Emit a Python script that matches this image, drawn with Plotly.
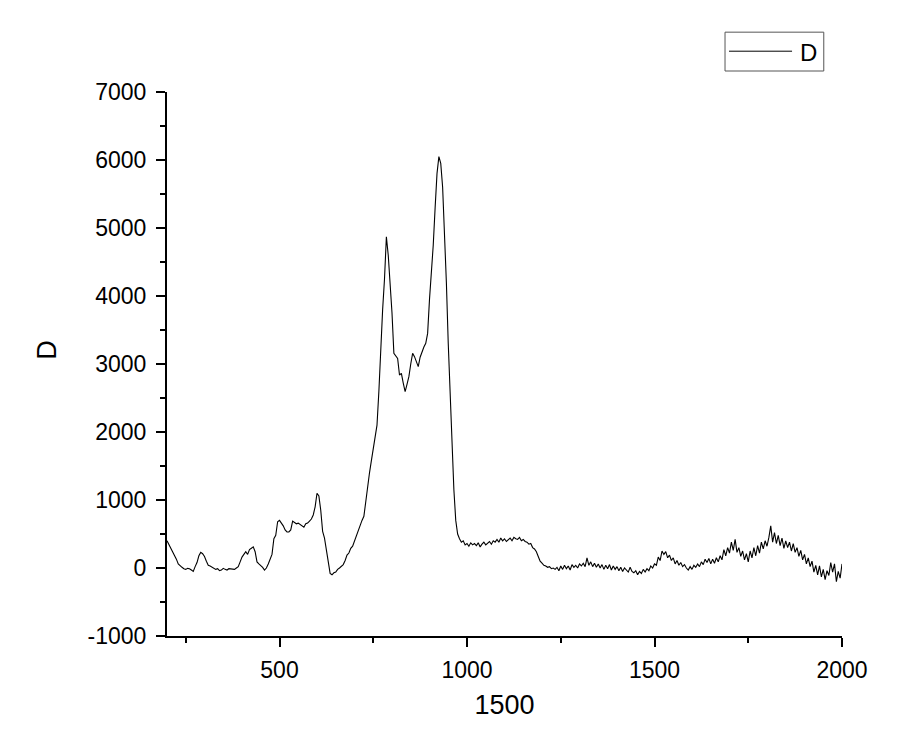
import plotly.graph_objects as go

# wavenumber grid (step 5) and intensity
x_start = 200
x_step = 5
d_values = [
    # 200-295
    400, 350, 300, 250, 200, 130, 60, 30, 10, -10, -20, -5, -10, -30, -50, 20, 80, 180, 230, 210,
    # 300-395
    170, 100, 40, 30, 10, 0, -20, -10, -40, -30, -5, -20, -30, -10, -10, -20, -20, 0, 20, 90,
    # 400-495
    160, 200, 240, 200, 270, 290, 310, 240, 90, 60, 40, 10, -30, 0, 60, 120, 200, 430, 480, 680,
    # 500-595
    700, 660, 620, 560, 530, 530, 560, 690, 670, 650, 660, 640, 620, 600, 650, 660, 690, 720, 780, 900,
    # 600-695
    1100, 1060, 850, 540, 440, 260, 110, -80, -100, -70, -60, -20, 0, 30, 50, 110, 190, 220, 290, 320,
    # 700-795
    400, 480, 560, 620, 700, 760, 1000, 1180, 1400, 1580, 1760, 1900, 2100, 2600, 3250, 3800, 4250, 4870, 4600, 4200,
    # 800-895
    3750, 3157, 3120, 3083, 2838, 2863, 2720, 2593, 2700, 2814, 3000, 3157, 3108, 3030, 2961, 3100, 3181, 3250, 3304, 3450,
    # 900-995
    3950, 4300, 4750, 5300, 5800, 6050, 5950, 5600, 5000, 4200, 3300, 2550, 1800, 1150, 700, 500, 430, 380, 400, 340,
    # 1000-1095
    360, 320, 370, 340, 360, 330, 370, 310, 350, 380, 340, 370, 390, 350, 400, 380, 420, 380, 440, 400,
    # 1100-1195
    430, 390, 420, 440, 400, 450, 430, 420, 450, 400, 420, 390, 380, 350, 360, 300, 280, 240, 170, 100,
    # 1200-1295
    70, 40, 30, 10, 20, -10, 0, -20, 10, -40, 30, -20, 40, -10, 30, -30, 50, 10, 40, 0,
    # 1300-1395
    60, 30, 70, 20, 150, 40, 90, 20, 70, 10, 60, 0, 50, -20, 40, -10, 50, -30, 30, -20,
    # 1400-1495
    20, -40, 10, -50, 0, -30, -60, 10, -50, -70, -40, -100, -50, -80, -20, -60, -10, -40, 30, 0,
    # 1500-1595
    60, 40, 160, 110, 250, 200, 240, 150, 190, 110, 150, 60, 110, 40, 80, 20, 50, 0, -30, 20,
    # 1600-1695
    -20, 40, 10, 60, 20, 90, 50, 130, 80, 140, 60, 130, 70, 150, 90, 180, 120, 270, 180, 300,
    # 1700-1795
    220, 380, 260, 420, 230, 300, 170, 250, 120, 210, 90, 250, 150, 300, 180, 330, 220, 380, 280, 400,
    # 1800-1895
    320, 450, 620, 380, 520, 360, 480, 330, 440, 290, 400, 300, 380, 250, 360, 230, 300, 170, 260, 120,
    # 1900-2000
    200, 60, 150, 20, 100, -60, 40, -100, 30, -130, -20, -170, -40, -110, 80, -60, 60, -200, -50, -150,
    60,
]
x_values = [x_start + i * x_step for i in range(len(d_values))]

x_tick_vals = [500, 1000, 1500, 2000]
y_tick_vals = [-1000, 0, 1000, 2000, 3000, 4000, 5000, 6000, 7000]
y_tick_text = ["-1000", "0", "1000", "2000", "3000", "4000", "5000", "6000", "7000"]

FONT = "Arial, Liberation Sans, sans-serif"

fig = go.Figure()
fig.add_trace(go.Scatter(
    x=x_values,
    y=d_values,
    mode="lines",
    name="D",
    line=dict(color="black", width=1.1),
    showlegend=False,
))

# page body has an 8px default margin, so margins are shifted to compensate
fig.update_layout(
    width=900,
    height=754,
    margin=dict(l=159, r=66, t=84, b=126),
    paper_bgcolor="white",
    plot_bgcolor="white",
    font=dict(family=FONT, color="black", size=23),
)

fig.update_xaxes(
    range=[200, 2000],
    tickvals=x_tick_vals,
    showgrid=False,
    zeroline=False,
    showline=True,
    linecolor="black",
    linewidth=2,
    ticks="outside",
    ticklen=9,
    tickwidth=2,
    tickcolor="black",
    ticklabelstandoff=3,
    minor=dict(ticks="outside", ticklen=5, tickwidth=2, tickcolor="black", dtick=250, tick0=0),
    title=dict(text="1500", font=dict(size=27), standoff=14),
)
fig.update_yaxes(
    range=[-1000, 7000],
    tickvals=y_tick_vals,
    ticktext=y_tick_text,
    showgrid=False,
    zeroline=False,
    showline=True,
    linecolor="black",
    linewidth=2,
    ticks="outside",
    ticklen=9,
    tickwidth=2,
    tickcolor="black",
    ticklabelstandoff=5,
    minor=dict(ticks="outside", ticklen=5, tickwidth=2, tickcolor="black", dtick=500, tick0=0),
)

# y axis title, placed like the Origin export (slightly above centre)
fig.add_annotation(text="D", xref="paper", yref="paper",
                   x=-0.178, y=0.526, xanchor="center", yanchor="middle",
                   textangle=-90, showarrow=False, font=dict(size=27))

# Origin-style legend box with a long line sample
fig.add_shape(type="rect", xref="paper", yref="paper",
              x0=0.8267, x1=0.973, y0=1.0386, y1=1.110,
              line=dict(color="#555555", width=1), fillcolor="white")
fig.add_shape(type="line", xref="paper", yref="paper",
              x0=0.8326, x1=0.926, y0=1.075, y1=1.075,
              line=dict(color="black", width=1))
fig.add_annotation(text="D", xref="paper", yref="paper",
                   x=0.966, y=1.073, xanchor="right", yanchor="middle",
                   showarrow=False, font=dict(size=24))

fig.write_html("out.html")
